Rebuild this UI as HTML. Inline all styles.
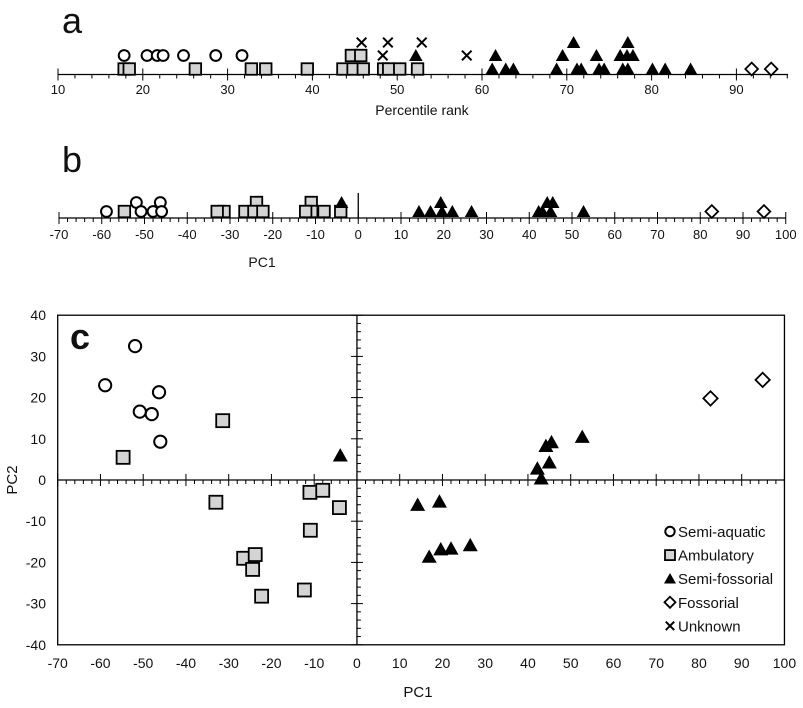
<!DOCTYPE html>
<html><head><meta charset="utf-8"><style>
html,body{margin:0;padding:0;background:#fff;}
svg{display:block;font-family:"Liberation Sans",Arial,sans-serif;}
</style></head><body>
<svg id="fig" width="803" height="708" viewBox="0 0 803 708" xmlns="http://www.w3.org/2000/svg"></svg>
<script>
// ---------- Panel a data (percentile rank, stack row) ----------
const aCircles = [17.8,20.5,21.7,22.4,24.8,28.6,31.7];
const aCirclesRow = [1,1,1,1,1,1,1];
const aSquares = [17.8,18.4,26.2,32.8,34.5,39.4,43.6,44.8,46,48.4,49,50.3,52.4,44.6,45.7];
const aSquaresRow = [0,0,0,0,0,0,0,0,0,0,0,0,0,1,1];
const aTriangles = [52.2,61.2,62.8,63.7,68.8,71.2,71.7,73.8,74.4,76.6,77.2,80.1,81.6,84.6,61.6,69.5,73.5,76.3,77.1,77.8,70.8,77.2];
const aTrianglesRow = [1,0,0,0,0,0,0,0,0,0,0,0,0,0,1,1,1,1,1,1,2,2];
const aDiamonds = [91.8,94.1];
const aDiamondsRow = [0,0];
const aCrosses = [48.3,58.2,45.8,48.9,52.9];
const aCrossesRow = [1,1,2,2,2];
const aTicks = [10,20,30,40,50,60,70,80,90];

// ---------- Panel b/c data (PC1, PC2) ----------
const circPC1 = [-58.9,-51.9,-46.3,-50.8,-48,-46];
const circPC2 = [23,32.5,21.3,16.6,16,9.3];
const circRowB = [0,1,1,0,0,0];
const sqPC1 = [-54.7,-31.4,-33,-11,-8,-4.1,-10.9,-26.5,-23.8,-24.4,-22.3,-12.3];
const sqPC2 = [5.5,14.4,-5.4,-3,-2.5,-6.7,-12.2,-19,-18.1,-21.7,-28.2,-26.7];
const sqRowB = [0,0,0,1,0,0,0,0,1,0,0,0];
const triPC1 = [-3.9,14.2,19.3,16.9,19.6,22,26.5,42.2,43.1,45,44.2,45.5,52.7];
const triPC2 = [6,-6,-5.2,-18.6,-16.8,-16.6,-15.8,2.8,0.4,4.3,8.3,9.2,10.5];
const triRowB = [1,0,1,0,0,0,0,0,0,0,1,1,0];
const diaPC1 = [82.7,94.9];
const diaPC2 = [19.8,24.3];
const diaRowB = [0,0];
const pc1Ticks = [-70,-60,-50,-40,-30,-20,-10,0,10,20,30,40,50,60,70,80,90,100];
const pc2Ticks = [-40,-30,-20,-10,0,10,20,30,40];
const legendLabels = ["Semi-aquatic","Ambulatory","Semi-fossorial","Fossorial","Unknown"];

const svg = document.getElementById('fig');
const NS = 'http://www.w3.org/2000/svg';
function mk(tag, attrs, parent){
  const e = document.createElementNS(NS, tag);
  for (const k in attrs) e.setAttribute(k, attrs[k]);
  (parent||svg).appendChild(e);
  return e;
}
function txt(x,y,s,size,anchor,parent,extra){
  const t = mk('text',Object.assign({x:x,y:y,'font-size':size,'text-anchor':anchor||'middle',fill:'#111'},extra||{}),parent);
  t.textContent = s;
  return t;
}
// marker drawer
function marker(kind, cx, cy, s, parent){
  let e;
  if(kind==='circle'){ e = mk('circle',{cx:cx,cy:cy,r:s*0.47,fill:'#fff',stroke:'#000','stroke-width':2},parent); }
  else if(kind==='square'){ e = mk('rect',{x:cx-s/2,y:cy-s/2,width:s,height:s,fill:'#d4d4d4',stroke:'#000','stroke-width':1.8},parent); }
  else if(kind==='triangle'){ const h=s*0.95; e = mk('polygon',{points:`${cx},${cy-h/2-1} ${cx-s/2-1},${cy+h/2} ${cx+s/2+1},${cy+h/2}`,fill:'#000'},parent); }
  else if(kind==='diamond'){ const r=s*0.55; e = mk('polygon',{points:`${cx},${cy-r} ${cx+r},${cy} ${cx},${cy+r} ${cx-r},${cy}`,fill:'#fff',stroke:'#000','stroke-width':1.8},parent); }
  else { const r=s*0.42; e = mk('path',{d:`M${cx-r},${cy-r}L${cx+r},${cy+r}M${cx+r},${cy-r}L${cx-r},${cy+r}`,stroke:'#000','stroke-width':2,fill:'none'},parent); }
  return e;
}

// ================= Panel a =================
const gA = mk('g',{});  
const ax = v => 58 + (v-10)*8.48;
const aAxisY = 74.5;
const aRowY = r => [69,55.5,42.5][r];
txt(62,33,'a',36,'start',gA);
mk('line',{x1:ax(10),x2:788,y1:aAxisY,y2:aAxisY,stroke:'#000','stroke-width':1.3},gA);
for(let v=10; v<=96; v+=2){ const major = (v%10===0); mk('line',{x1:ax(v),x2:ax(v),y1:major?aAxisY-6:aAxisY,y2:aAxisY+(major?6:4),stroke:'#000','stroke-width':1},gA); }
aTicks.forEach(v=>{ const t=txt(ax(v),94,String(v),13,'middle',gA);   });
const aT = txt(422,115,'Percentile rank',14,'middle',gA);  
function plotA(vals, rows, kind, name){
  vals.forEach((v,i)=>{ const m = marker(kind, ax(v), aRowY(rows[i]), 11.5, gA);
    
     });
}
plotA(aSquares,aSquaresRow,'square','a-ambulatory-point');
plotA(aCircles,aCirclesRow,'circle','a-semi-aquatic-point');
plotA(aTriangles,aTrianglesRow,'triangle','a-semi-fossorial-point');
plotA(aDiamonds,aDiamondsRow,'diamond','a-fossorial-point');
plotA(aCrosses,aCrossesRow,'cross','a-unknown-point');

// ================= Panel b =================
const gB = mk('g',{});  
const bx = v => 59 + (v+70)*4.275;
const bAxisY = 218;
const bRowY = r => [211.5,202.5][r];
txt(62,172,'b',36,'start',gB);
mk('line',{x1:bx(-70),x2:bx(100),y1:bAxisY,y2:bAxisY,stroke:'#000','stroke-width':1.3},gB);
mk('line',{x1:bx(0),x2:bx(0),y1:193,y2:bAxisY,stroke:'#000','stroke-width':1.3},gB);
for(let v=-70; v<=100; v+=2){ const major=(v%10===0); mk('line',{x1:bx(v),x2:bx(v),y1:major?bAxisY-6:bAxisY,y2:bAxisY+(major?6:4),stroke:'#000','stroke-width':1},gB); }
pc1Ticks.forEach(v=>{ const t=txt(bx(v),239,String(v),13,'middle',gB);   });
const bT = txt(262,267,'PC1',14,'middle',gB);  
function plotB(vals, rows, kind, name){
  vals.forEach((v,i)=>{ const m = marker(kind, bx(v), bRowY(rows[i]), 11.5, gB);
    
     });
}
plotB(sqPC1,sqRowB,'square','b-ambulatory-point');
plotB(circPC1,circRowB,'circle','b-semi-aquatic-point');
plotB(triPC1,triRowB,'triangle','b-semi-fossorial-point');
plotB(diaPC1,diaRowB,'diamond','b-fossorial-point');

// ================= Panel c =================
const gC = mk('g',{});  
const cx = v => 57.7 + (v+70)*4.275;
const cy = v => 480 - v*4.12;
mk('rect',{x:cx(-70),y:cy(40),width:cx(100)-cx(-70),height:cy(-40)-cy(40),fill:'none',stroke:'#000','stroke-width':1.3},gC);
mk('line',{x1:cx(-70),x2:cx(100),y1:cy(0),y2:cy(0),stroke:'#000','stroke-width':1.3},gC);
mk('line',{x1:cx(0),x2:cx(0),y1:cy(40),y2:cy(-40),stroke:'#000','stroke-width':1.3},gC);
for(let v=-70; v<=100; v+=2){ const major=(v%10===0); mk('line',{x1:cx(v),x2:cx(v),y1:cy(0)-(major?6:0),y2:cy(0)+(major?6:4),stroke:'#000','stroke-width':1},gC); }
for(let v=-40; v<=40; v+=2){ const major=(v%10===0); mk('line',{x1:cx(0)-(major?6:0),x2:cx(0)+(major?6:4),y1:cy(v),y2:cy(v),stroke:'#000','stroke-width':1},gC); }
pc1Ticks.forEach(v=>{ const t=txt(cx(v),668,String(v),14,'middle',gC);   });
pc2Ticks.forEach(v=>{ const t=txt(46,cy(v)+5,String(v),14,'end',gC);   });
const cT = txt(418,697,'PC1',15,'middle',gC);  
const cY = txt(0,0,'PC2',15,'middle',gC,{transform:'translate(17,480) rotate(-90)'});  
const cL = txt(70,349,'c',36,'start',gC,{'font-weight':'bold'});  
function plotC(xs, ys, kind, name){
  xs.forEach((v,i)=>{ const m = marker(kind, cx(v), cy(ys[i]), 13, gC);
    
     });
}
plotC(sqPC1,sqPC2,'square','c-ambulatory-point');
plotC(circPC1,circPC2,'circle','c-semi-aquatic-point');
plotC(triPC1,triPC2,'triangle','c-semi-fossorial-point');
plotC(diaPC1,diaPC2,'diamond','c-fossorial-point');

// legend
const gL = mk('g',{},gC);  
const legKinds = ['circle','square','triangle','diamond','cross'];
legendLabels.forEach((lab,i)=>{
  const y = 531.5 + i*23.6;
  const ge = mk('g',{},gL);
  
  
  marker(legKinds[i], 670, y, 10, ge);
  txt(678,y+5.5,lab,15,'start',ge);
});
</script>
</body></html>
